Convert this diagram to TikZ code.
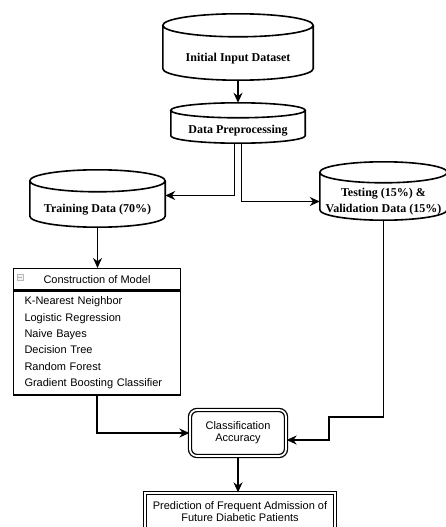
\documentclass[tikz,border=0pt]{standalone}
\usepackage{fontspec}
\setmainfont{Liberation Serif}
\setsansfont{Liberation Sans}
\usetikzlibrary{calc,arrows.meta}
% outline of a data store round the body node #1, cap radius #2
\newcommand\dbdraw[2]{%
  \draw[dbline] let \p1=(#1.north west), \p2=(#1.south east), \n1={(\x2-\x1)/2} in
    ([yshift=#2]\p1) -- ([yshift=#2]\x1,\y2)
    arc[start angle=180, end angle=360, x radius=\n1, y radius=#2]
    -- ([yshift=#2]\x2,\y1)
    ([yshift=#2]#1.north) ellipse[x radius=\n1, y radius=#2];}
\begin{document}
\begin{tikzpicture}[
    x=1pt, y=-1pt,
    db/.style={rectangle, inner sep=0pt, align=center,
        font=\fontsize{12}{16}\selectfont\bfseries},
    dbline/.style={line width=1.6pt},
    box/.style={draw, line width=1.3pt, font=\sffamily\fontsize{11}{12}\selectfont},
    dbox/.style={box, double, double distance=1.8pt, line width=1.3pt, align=center},
    arr/.style={-{Stealth[length=10pt,width=9pt]}, line width=1.6pt}
]
\useasboundingbox (0,0) rectangle (446,527);
% data stores
\node[db, minimum width=150pt, minimum height=43pt] (init) at (238,58.5) {Initial Input Dataset};
\node[db, minimum width=134pt, minimum height=25pt] (prep) at (238,130.5) {Data Preprocessing};
\node[db, minimum width=135pt, minimum height=35pt] (train) at (97.5,209.5) {Training Data (70\%)};
\node[db, minimum width=127pt, minimum height=37pt] (test) at (383.5,201.5) {Testing (15\%) \&\\Validation Data (15\%)};
\dbdraw{init}{11.5pt}
\dbdraw{prep}{7.5pt}
\dbdraw{train}{11pt}
\dbdraw{test}{10.5pt}
% model list
\node[box, anchor=north, minimum width=167pt, minimum height=21pt] (head) at (97,268) {Construction of Model};
\node[draw=gray!55, fill=gray!10, line width=0.6pt, minimum size=6pt, inner sep=0pt] (icon) at (20,277) {};
\draw[gray!60, line width=0.6pt] ([xshift=1.5pt]icon.west) -- ([xshift=-1.5pt]icon.east);
\node[box, anchor=north, text width=145pt, inner xsep=11pt, minimum height=104pt, align=left,
    font=\sffamily\fontsize{11}{16.4}\selectfont] (model) at (head.south)
    {K-Nearest Neighbor\\Logistic Regression\\Naive Bayes\\Decision Tree\\Random Forest\\Gradient Boosting Classifier};
% results
\node[dbox, rounded corners=7pt, minimum width=96pt, minimum height=46pt] (acc) at (238,433) {Classification\\Accuracy};
\node[dbox, minimum width=190pt, minimum height=37pt] (pred) at (240,511.5) {Prediction of Frequent Admission of\\Future Diabetic Patients};
% connectors
\coordinate (bend) at (329,417);
\draw[arr] (init.south) -- ([yshift=15pt]prep.north);
\draw[arr] ([xshift=-3.5pt]prep.south) |- ([yshift=14pt]train.east);
\draw[arr] ([xshift=3.5pt]prep.south) |- (test.west);
\draw[arr] (train.south) -- (train.south |- head.north);
\draw[arr] (model) |- (acc);
\draw[arr] (test.south) |- (bend) |- ([yshift=-7pt]acc.east);
\draw[arr] (acc) -- (acc |- pred.north);
\end{tikzpicture}
\end{document}
